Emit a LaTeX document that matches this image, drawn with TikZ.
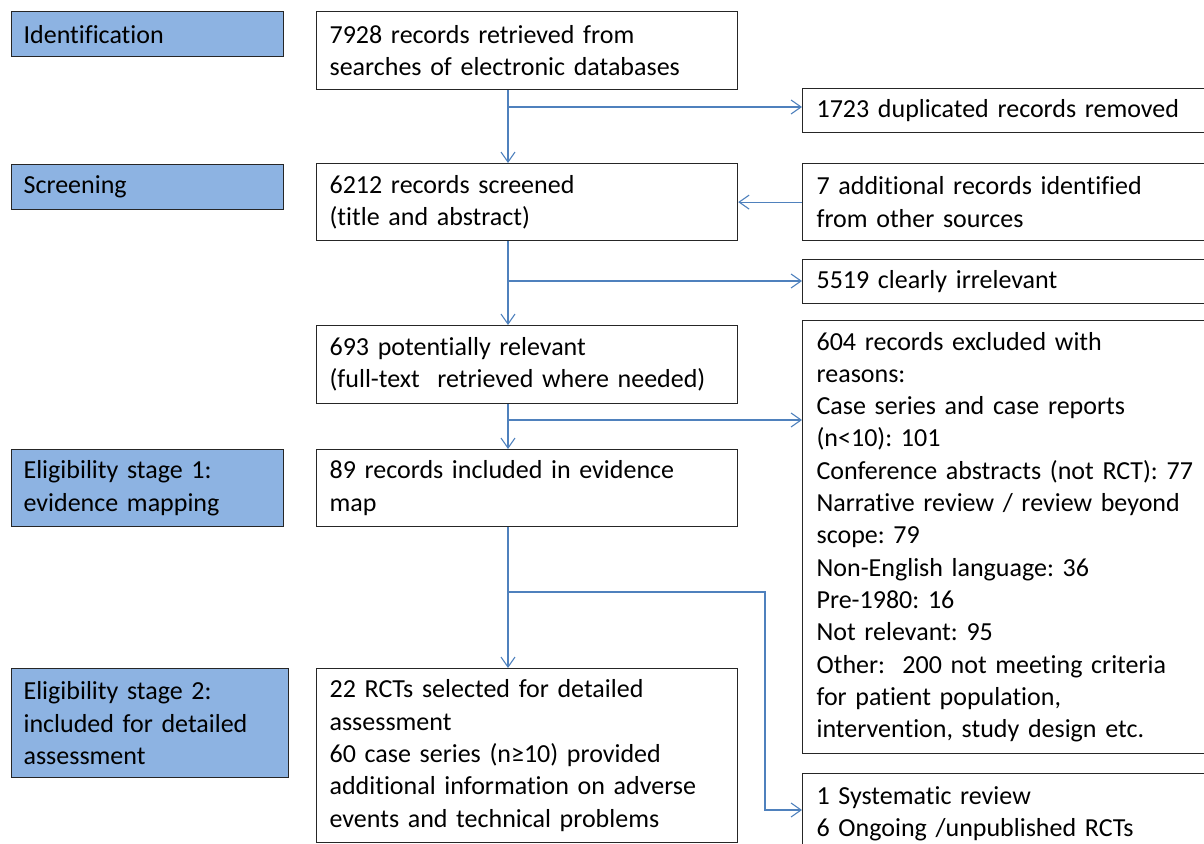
\documentclass[tikz,border=0pt]{standalone}
\usepackage{fontspec}
\setmainfont{Carlito}[Ligatures={NoCommon}]
\frenchspacing
\usetikzlibrary{arrows.meta}
\definecolor{stageblue}{HTML}{8DB3E2}
\definecolor{flowblue}{HTML}{4F81BD}
\newcommand{\boxfont}{\fontsize{26pt}{32.3pt}\selectfont}
\tikzstyle{stagebox} = [rectangle, anchor=north west, draw=black!85, fill=stageblue, line width=1.2pt, text width=248pt, inner xsep=12pt, inner ysep=0pt, align=left, font=\boxfont]
\tikzstyle{recbox} = [rectangle, anchor=north west, draw=black!85, line width=1.2pt, text width=395pt, inner xsep=13pt, inner ysep=0pt, align=left, font=\boxfont]
\tikzstyle{sidebox} = [rectangle, anchor=north west, draw=black!85, line width=1.2pt, text width=385pt, inner xsep=14pt, inner ysep=0pt, align=left, font=\boxfont]
\tikzstyle{flow} = [draw=flowblue, line width=1.1pt, -{Straight Barb[length=10pt,width=14pt]}]

\begin{document}
\begin{tikzpicture}[x=1pt, y=-1pt]
 \useasboundingbox (0,0) rectangle (1204,843);
 \clip (0,0) rectangle (1204,843);

 % stages
 \node (ident) [stagebox, minimum height=45pt] at (11,11) {Identification};
 \node (screen) [stagebox, minimum height=45pt] at (11,164) {Screening};
 \node (elig1) [stagebox, minimum height=77pt] at (11,449) {Eligibility stage 1:\\evidence mapping};
 \node (elig2) [stagebox, text width=253pt, minimum height=109pt] at (11,668) {Eligibility stage 2:\\included for detailed\\assessment};

 % main flow
 \node (retrieved) [recbox, minimum height=78pt] at (316,11) {7928 records retrieved from\\searches of electronic databases};
 \node (screened) [recbox, minimum height=77pt] at (316,163) {6212 records screened\\(title and abstract)};
 \node (potential) [recbox, minimum height=78pt] at (316,325) {693 potentially relevant\\(full-text\ \ retrieved where needed)};
 \node (mapped) [recbox, minimum height=77pt] at (316,449) {89 records included in evidence\\map};
 \node (detailed) [recbox, minimum height=174pt] at (316,668) {22 RCTs selected for detailed\\assessment\\60 case series (n≥10) provided\\additional information on adverse\\events and technical problems};

 % side boxes
 \node (duplicates) [sidebox, minimum height=44pt] at (802,88) {1723 duplicated records removed};
 \node (additional) [sidebox, minimum height=77pt] at (802,163) {7 additional records identified\\from other sources};
 \node (irrelevant) [sidebox, minimum height=44pt] at (802,259) {5519 clearly irrelevant};
 \node (excluded) [sidebox, minimum height=433pt] at (802,320) {604 records excluded with\\reasons:\\Case series and case reports\\(n<10): 101\\Conference abstracts (not RCT): 77\\Narrative review / review beyond\\scope: 79\\Non-English language: 36\\Pre-1980: 16\\Not relevant: 95\\Other:\ \ 200 not meeting criteria\\for patient population,\\intervention, study design etc.};
 \node (ongoing) [sidebox, minimum height=80pt] at (802,773) {1 Systematic review\\6 Ongoing /unpublished RCTs};

 % connectors
 \coordinate (spine) at (508,0);
 \coordinate (split1) at (508,107);
 \coordinate (split2) at (508,281);
 \coordinate (split3) at (508,420);
 \coordinate (split4) at (508,592);
 \coordinate (bend) at (765,810);

 \draw[flow] (retrieved.south -| spine) -- (screened.north -| spine);
 \draw[flow] (split1) -- (split1 -| duplicates.west);
 \draw[flow] (additional.west) -- (screened.east);
 \draw[flow] (screened.south -| spine) -- (potential.north -| spine);
 \draw[flow] (split2) -- (split2 -| irrelevant.west);
 \draw[flow] (potential.south -| spine) -- (mapped.north -| spine);
 \draw[flow] (split3) -- (split3 -| excluded.west);
 \draw[flow] (mapped.south -| spine) -- (detailed.north -| spine);
 \draw[flow] (split4) -| (bend) -- (bend -| ongoing.west);
\end{tikzpicture}
\end{document}
